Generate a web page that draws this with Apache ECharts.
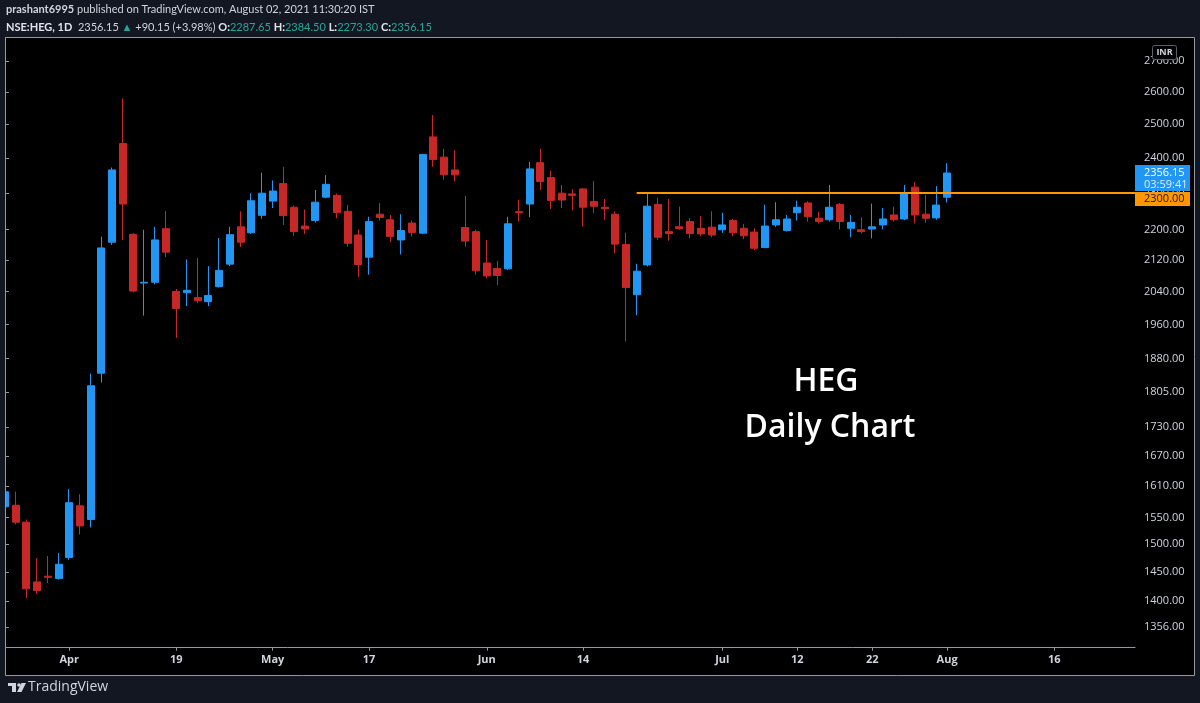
<!DOCTYPE html>
<html><head><meta charset="utf-8">
<script src="https://cdn.jsdelivr.net/npm/echarts@6/dist/echarts.min.js"></script>
<style>html,body{margin:0;padding:0;background:#131722;}#c{width:1200px;height:703px;}</style>
</head><body><div id="c"></div>
<script>
// ---- data ----
const dates = [
 '2021-03-23','2021-03-24','2021-03-25','2021-03-26','2021-03-30','2021-03-31',
 '2021-04-01','2021-04-05','2021-04-06','2021-04-07','2021-04-08','2021-04-09','2021-04-12','2021-04-13','2021-04-15','2021-04-16',
 '2021-04-19','2021-04-20','2021-04-22','2021-04-23','2021-04-26','2021-04-27','2021-04-28','2021-04-29','2021-04-30',
 '2021-05-03','2021-05-04','2021-05-05','2021-05-06','2021-05-07','2021-05-10','2021-05-11','2021-05-12','2021-05-14',
 '2021-05-17','2021-05-18','2021-05-19','2021-05-20','2021-05-21','2021-05-24','2021-05-25','2021-05-26','2021-05-27','2021-05-28','2021-05-31',
 '2021-06-01','2021-06-02','2021-06-03','2021-06-04','2021-06-07','2021-06-08','2021-06-09','2021-06-10','2021-06-11',
 '2021-06-14','2021-06-15','2021-06-16','2021-06-17','2021-06-18','2021-06-21','2021-06-22','2021-06-23','2021-06-24','2021-06-25','2021-06-28','2021-06-29','2021-06-30',
 '2021-07-01','2021-07-02','2021-07-05','2021-07-06','2021-07-07','2021-07-08','2021-07-09',
 '2021-07-12','2021-07-13','2021-07-14','2021-07-15','2021-07-16','2021-07-19','2021-07-20',
 '2021-07-22','2021-07-23','2021-07-26','2021-07-27','2021-07-28','2021-07-29','2021-07-30',
 '2021-08-02'
];
const opens  = [1570,1573,1541,1433,1443,1439, 1476,1572,1546,1847,2166,2442,2187,2061,2063,2202, 2040,2037,2025,2015,2052,2109,2207,2191,2238,
 2277,2326,2260,2209,2224,2288,2293,2249,2185, 2127,2241,2226,2172,2217,2190,2462,2402,2365,2205,2194,
 2112,2098,2097,2248,2269,2386,2343,2299,2297, 2311,2276,2260,2241,2160,2032,2107,2268,2194,2207,2221,2203,2206,
 2199,2224,2203,2193,2152,2212,2197, 2245,2272,2230,2226,2268,2203,2199, 2201,2212,2239,2228,2316,2241,2231, 2287.65];
const highs  = [1605,1599,1546,1475,1479,1484, 1604,1594,1846,2181,2372,2580,2190,2199,2207,2249, 2046,2121,2125,2104,2177,2207,2249,2299,2357,
 2335,2374,2265,2254,2308,2350,2298,2266,2200, 2234,2272,2239,2241,2224,2412,2528,2427,2422,2292,2199,
 2172,2117,2234,2281,2388,2427,2363,2322,2310, 2313,2333,2283,2249,2191,2110,2299,2286,2283,2262,2230,2236,2249,
 2245,2228,2215,2203,2267,2274,2239, 2278,2277,2248,2322,2272,2239,2232, 2270,2258,2262,2322,2330,2294,2319, 2384.50];
const lows   = [1562,1537,1405,1412,1431,1437, 1472,1518,1531,1826,2159,2172,2038,1981,2058,2127, 1928,2004,2012,2004,2050,2104,2153,2188,2229,
 2258,2212,2183,2188,2218,2285,2230,2154,2077, 2082,2224,2167,2134,2181,2188,2374,2337,2332,2154,2082,
 2073,2056,2094,2221,2233,2308,2255,2258,2252, 2208,2245,2226,2137,1920,1982,2103,2172,2170,2199,2176,2182,2179,
 2191,2182,2174,2145,2150,2207,2194, 2224,2221,2216,2221,2200,2179,2189, 2176,2200,2221,2225,2216,2218,2226, 2273.30];
const closes = [1599,1541,1421,1418,1441,1464, 1578,1534,1819,2151,2365,2269,2041,2063,2172,2140, 1998,2043,2017,2030,2093,2186,2166,2278,2299,
 2305,2237,2194,2201,2274,2324,2246,2163,2108, 2221,2232,2181,2197,2192,2410,2395,2351,2351,2169,2092,
 2079,2080,2215,2245,2368,2332,2279,2280,2293, 2260,2263,2256,2161,2050,2091,2263,2179,2189,2202,2189,2188,2185,
 2212,2191,2183,2150,2209,2226,2228, 2260,2234,2221,2260,2221,2219,2194, 2207,2228,2226,2299,2239,2230,2266, 2356.15];
// empty future slots on the time axis
const futureDates = ['2021-08-03','2021-08-04','2021-08-05','2021-08-06','2021-08-09','2021-08-10','2021-08-11','2021-08-12','2021-08-13',
 '2021-08-16','2021-08-17','2021-08-18','2021-08-19','2021-08-20','2021-08-23','2021-08-24','2021-08-25'];
const xTickDates  = ['2021-04-01','2021-04-19','2021-05-03','2021-05-17','2021-06-01','2021-06-14','2021-07-01','2021-07-12','2021-07-22','2021-08-02','2021-08-16'];
const xTickLabels = ['Apr','19','May','17','Jun','14','Jul','12','22','Aug','16'];
const yTickValues = [2700,2600,2500,2400,2300,2200,2120,2040,1960,1880,1805,1730,1670,1610,1550,1500,1450,1400,1356];
const levelPrice = 2300;
const levelStartDate = '2021-06-21';
const lastPrice = 2356.15;
const countdown = '03:59:41';

// ---- build ----
const allDates = dates.concat(futureDates);
const xTickIdx = xTickDates.map(d => allDates.indexOf(d));
const labelMap = {};
xTickIdx.forEach((ix, k) => { labelMap[ix] = xTickLabels[k]; });
const candles = dates.map((d, i) => [i, opens[i], closes[i], lows[i], highs[i]]);

const UP = '#2196f3', DOWN = '#c62828', FRAME = '#9598a1', TXT = '#d1d4dc';
const X_MAX = 105.55;

const chart = echarts.init(document.getElementById('c'), null, {renderer: 'canvas'});
const option = {
  backgroundColor: '#000000',
  animation: false,
  grid: {left: 5, right: 65, top: 38, bottom: 55.3, outerBoundsMode: 'none', containLabel: false},
  xAxis: {
    type: 'value', min: 0, max: X_MAX,
    axisLine: {show: true, lineStyle: {color: FRAME, width: 1}},
    axisTick: {show: true, customValues: xTickIdx, length: 3, lineStyle: {color: FRAME}},
    axisLabel: {customValues: xTickIdx, formatter: v => labelMap[Math.round(v)] || '', color: TXT,
      fontSize: 11, fontWeight: 'bold', fontFamily: 'Open Sans', margin: 7},
    splitLine: {show: false}
  },
  yAxis: {
    type: 'log', logBase: 10, position: 'right', min: 1322.8, max: 2776.6,
    axisLine: {show: true, lineStyle: {color: FRAME, width: 1}},
    axisTick: {show: true, customValues: yTickValues, length: 4, lineStyle: {color: FRAME}},
    axisLabel: {customValues: yTickValues, formatter: v => Number(v).toFixed(2), color: TXT,
      fontSize: 11, fontFamily: 'Open Sans', margin: 9},
    splitLine: {show: false}, minorTick: {show: false}
  },
  series: [{
    type: 'candlestick',
    data: candles,
    barWidth: 7.5,
    clip: true,
    itemStyle: {color: UP, color0: DOWN, borderColor: UP, borderColor0: DOWN, borderWidth: 1},
    markLine: {
      silent: true, symbol: ['none', 'none'], animation: false,
      label: {show: false},
      lineStyle: {color: '#ff9800', width: 2, type: 'solid'},
      data: [[{coord: [allDates.indexOf(levelStartDate), levelPrice]}, {coord: [X_MAX, levelPrice]}]]
    }
  }]
};
chart.setOption(option);

// price tags positioned through the chart's own scale
const yLast = chart.convertToPixel({gridIndex: 0}, [0, lastPrice])[1];
const yLevel = chart.convertToPixel({gridIndex: 0}, [0, levelPrice])[1];
const blueTop = yLast - 8, blueH = 26;
const orTop = Math.max(yLevel - 7, blueTop + blueH + 1), orH = 14;
const navy = '#131722';
const HF = 'Lato';
chart.setOption({
  graphic: {elements: [
    {type: 'rect', z: 50, shape: {x: 0, y: 0, width: 1200, height: 37}, style: {fill: navy}},
    {type: 'rect', z: 50, shape: {x: 0, y: 676, width: 1200, height: 27}, style: {fill: navy}},
    {type: 'rect', z: 50, shape: {x: 0, y: 0, width: 5, height: 703}, style: {fill: navy}},
    {type: 'rect', z: 50, shape: {x: 1195, y: 0, width: 5, height: 703}, style: {fill: navy}},
    {type: 'rect', z: 51, shape: {x: 5.5, y: 37.5, width: 1189, height: 638}, style: {fill: null, stroke: FRAME, lineWidth: 1}},
    // INR badge
    {type: 'rect', z: 60, shape: {x: 1152.5, y: 45.5, width: 24, height: 14, r: 2}, style: {fill: '#000', stroke: '#5d606b', lineWidth: 1}},
    {type: 'text', z: 61, x: 1164.5, y: 52.5, style: {text: 'INR', fill: TXT, font: 'bold 9px "Open Sans"', align: 'center', verticalAlign: 'middle'}},
    // last price tag
    {type: 'rect', z: 60, shape: {x: 1135, y: blueTop, width: 55, height: blueH}, style: {fill: UP}},
    {type: 'text', z: 61, x: 1144, y: yLast, style: {text: lastPrice.toFixed(2), fill: '#ffffff', font: '11px "Open Sans"', verticalAlign: 'middle'}},
    {type: 'text', z: 61, x: 1144, y: yLast + 12, style: {text: countdown, fill: '#dbeeff', font: '11px "Open Sans"', verticalAlign: 'middle'}},
    // level tag
    {type: 'rect', z: 60, shape: {x: 1135, y: orTop, width: 55, height: orH}, style: {fill: '#ff9800'}},
    {type: 'text', z: 61, x: 1144, y: orTop + orH / 2, style: {text: levelPrice.toFixed(2), fill: '#131722', font: '11px "Open Sans"', verticalAlign: 'middle'}},
    // header
    {type: 'text', z: 61, x: 6, y: 9, style: {
      text: '{b|prashant6995} published on TradingView.com, August 02, 2021 11:30:20 IST',
      fill: TXT, font: '11px ' + HF, verticalAlign: 'middle',
      rich: {b: {fill: TXT, font: 'bold 11px ' + HF}}}},
    {type: 'text', z: 61, x: 6, y: 27, style: {
      text: '{w|NSE:HEG, 1D}  {v|2356.15} {g|▲} {v|+90.15 (+3.98%)} {w|O:}{g|2287.65} {w|H:}{g|2384.50} {w|L:}{g|2273.30} {w|C:}{g|2356.15}',
      fill: TXT, font: '11px ' + HF, verticalAlign: 'middle',
      rich: {w: {fill: '#e0e3eb', font: 'bold 11px ' + HF}, v: {fill: TXT, font: '11px ' + HF}, g: {fill: '#26a69a', font: '11px ' + HF}}}},
    // title text on chart
    {type: 'text', z: 61, x: 826, y: 382, style: {text: 'HEG', fill: '#ffffff', font: '600 32px "Open Sans"', align: 'center', verticalAlign: 'middle'}},
    {type: 'text', z: 61, x: 830, y: 428, style: {text: 'Daily Chart', fill: '#ffffff', font: '600 32px "Open Sans"', align: 'center', verticalAlign: 'middle'}},
    // TradingView logo
    {type: 'rect', z: 61, shape: {x: 8, y: 683, width: 8, height: 3}, style: {fill: TXT}},
    {type: 'rect', z: 61, shape: {x: 12, y: 683, width: 4, height: 9}, style: {fill: TXT}},
    {type: 'circle', z: 61, shape: {cx: 19, cy: 685, r: 1.8}, style: {fill: TXT}},
    {type: 'polygon', z: 61, shape: {points: [[21.5, 683], [26, 683], [21.5, 692], [17, 692]]}, style: {fill: TXT}},
    {type: 'text', z: 61, x: 28, y: 687.5, style: {text: 'TradingView', fill: TXT, font: '14px "Open Sans"', verticalAlign: 'middle'}}
  ]}
});
</script>
</body></html>
